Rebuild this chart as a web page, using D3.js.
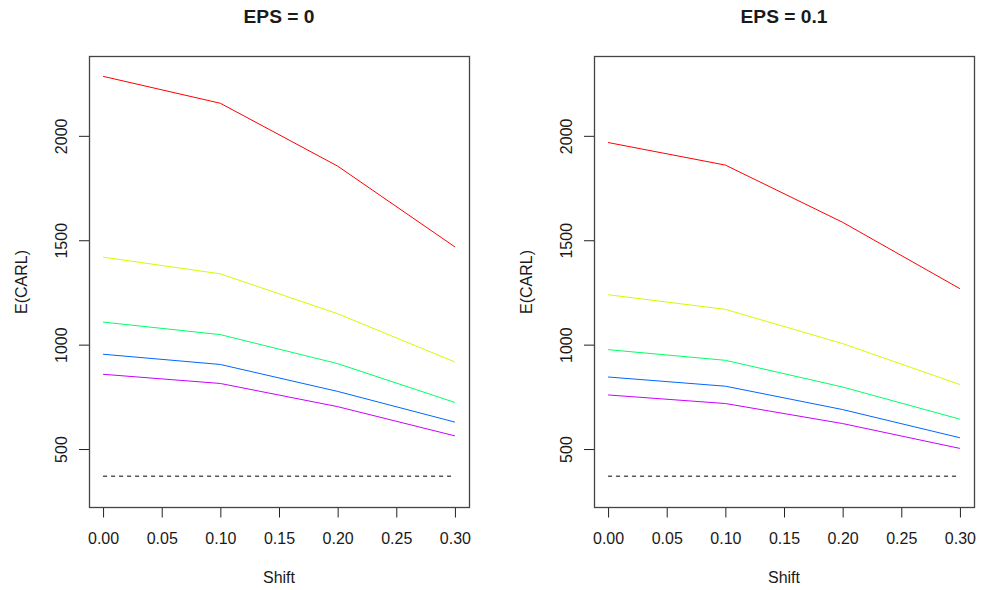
<!DOCTYPE html>
<html>
<head>
<meta charset="utf-8">
<script src="https://cdn.jsdelivr.net/npm/d3@7"></script>
<style>
	body { margin: 0; background: #fff; }
	text { font-family: 'Liberation Sans', Arial, sans-serif; fill: #1a1a1a; }
</style>
</head>
<body>
<svg id="chart" width="981" height="590"></svg>
<script>
// shift values on the x axis
var shifts = [0, 0.1, 0.2, 0.3];
var xTicks = [0, 0.05, 0.1, 0.15, 0.2, 0.25, 0.3];
var yTicks = [500, 1000, 1500, 2000];
var target = 370;
var colors = ['#FF0000', '#CCFF00', '#00FF66', '#0066FF', '#CC00FF'];

// EPS = 0
var eps0Red = [2285, 2156, 1855, 1468];
var eps0Yellow = [1419, 1339, 1148, 917];
var eps0Green = [1108, 1048, 909, 723];
var eps0Blue = [954, 905, 776, 629];
var eps0Magenta = [858, 814, 703, 563];

// EPS = 0.1
var eps1Red = [1968, 1860, 1586, 1268];
var eps1Yellow = [1239, 1169, 1005, 809];
var eps1Green = [976, 925, 797, 643];
var eps1Blue = [845, 801, 689, 554];
var eps1Magenta = [759, 718, 622, 503];

var panels = [
	{ title: 'EPS = 0', left: 89, series: [eps0Red, eps0Yellow, eps0Green, eps0Blue, eps0Magenta] },
	{ title: 'EPS = 0.1', left: 594, series: [eps1Red, eps1Yellow, eps1Green, eps1Blue, eps1Magenta] }
];

var svg = d3.select('#chart'),
	plotTop = 56.5, plotBottom = 507.5, width = 380;

function drawPanel(p) {
	var g = svg.append('g').attr('transform', 'translate(' + p.left + ',0)');

	var scaleX = d3.scaleLinear().domain([-0.012, 0.312]).range([0, width]);
	var scaleY = d3.scaleLinear().domain([220, 2380]).range([plotBottom, plotTop]);

	var line = d3.line()
		.x(function (d, i) { return scaleX(shifts[i]); })
		.y(function (d) { return scaleY(d); });

	// target line
	g.append('path')
		.datum(shifts.map(function () { return target; }))
		.attr('fill', 'none')
		.attr('stroke', '#000')
		.attr('stroke-dasharray', '4,4')
		.attr('d', line);

	p.series.forEach(function (s, i) {
		g.append('path')
			.datum(s)
			.attr('fill', 'none')
			.attr('stroke', colors[i])
			.attr('stroke-width', 1)
			.attr('d', line);
	});

	var xAxis = g.append('g')
		.attr('transform', 'translate(0,' + plotBottom + ')')
		.call(d3.axisBottom(scaleX).tickValues(xTicks).tickSize(10).tickPadding(15).tickFormat(d3.format('.2f')));
	xAxis.select('.domain').remove();

	var yAxis = g.append('g')
		.call(d3.axisLeft(scaleY).tickValues(yTicks).tickSize(10).tickFormat(d3.format('d')));
	yAxis.select('.domain').remove();
	yAxis.selectAll('text')
		.attr('transform', 'rotate(-90)')
		.attr('x', 0)
		.attr('y', -22)
		.attr('dy', 0)
		.attr('text-anchor', 'middle');

	g.selectAll('.tick line').attr('stroke', '#222');
	g.selectAll('.tick text').style('font-size', '16px').style('font-family', "'Liberation Sans', Arial, sans-serif").attr('fill', '#1a1a1a');

	// box
	g.append('rect')
		.attr('x', 0.5)
		.attr('y', plotTop)
		.attr('width', width)
		.attr('height', plotBottom - plotTop)
		.attr('fill', 'none')
		.attr('stroke', '#444')
		.attr('stroke-width', 1.3);

	g.append('text')
		.attr('x', width / 2)
		.attr('y', 23)
		.attr('text-anchor', 'middle')
		.style('font-size', '19.2px')
		.style('font-weight', 'bold')
		.text(p.title);

	g.append('text')
		.attr('x', width / 2)
		.attr('y', 583)
		.attr('text-anchor', 'middle')
		.style('font-size', '16px')
		.text('Shift');

	g.append('text')
		.attr('transform', 'translate(-62,' + ((plotTop + plotBottom) / 2) + ') rotate(-90)')
		.attr('text-anchor', 'middle')
		.style('font-size', '16px')
		.text('E(CARL)');
}

panels.forEach(drawPanel);
</script>
</body>
</html>
